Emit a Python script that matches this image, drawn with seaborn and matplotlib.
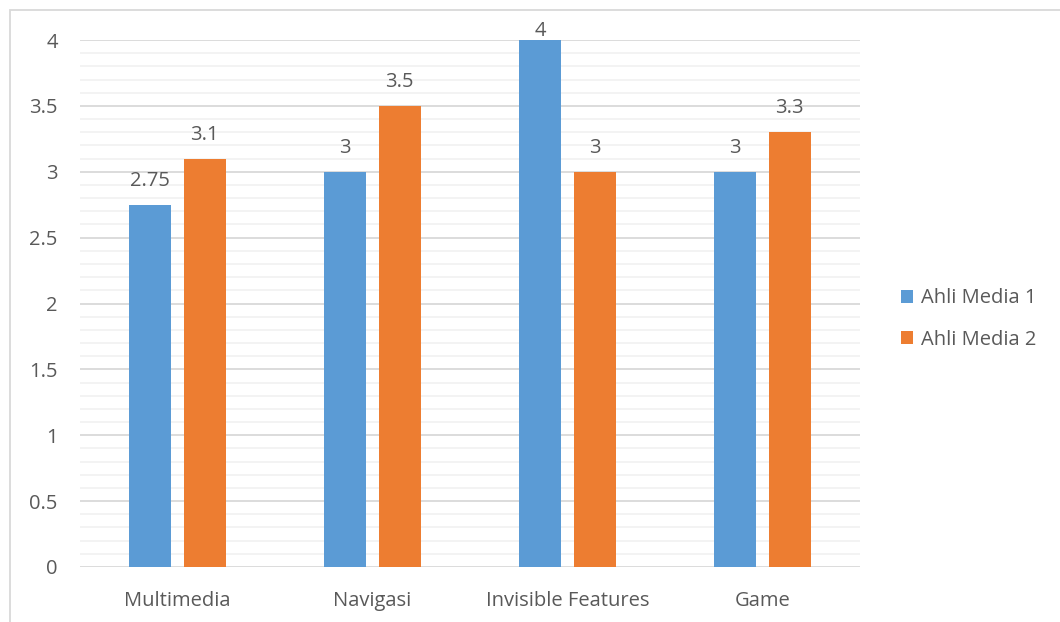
import pandas as pd
import matplotlib.pyplot as plt
import seaborn as sns
from matplotlib.patches import Rectangle
from matplotlib.ticker import MultipleLocator

sns.set_style("white")
plt.rcParams['font.family'] = ['Open Sans', 'DejaVu Sans']

# data
categories = ['Multimedia', 'Navigasi', 'Invisible Features', 'Game']
ahli_media_1 = [2.75, 3, 4, 3]
ahli_media_2 = [3.1, 3.5, 3, 3.3]
series_names = ['Ahli Media 1', 'Ahli Media 2']

df = pd.DataFrame({
    'kategori': categories * 2,
    'nilai': ahli_media_1 + ahli_media_2,
    'ahli': [series_names[0]] * 4 + [series_names[1]] * 4,
})

text_col = '#595959'
fs = 14.5
fig = plt.figure(figsize=(10.6, 6.22), dpi=100)
ax = fig.add_axes([80 / 1060, 55 / 622, 780 / 1060, 527 / 622])

sns.barplot(data=df, x='kategori', y='nilai', hue='ahli',
            palette=['#5B9BD5', '#ED7D31'], width=0.56, gap=0.22,
            saturation=1, linewidth=0, ax=ax, zorder=3)

ax.set_ylim(0, 4)
ax.set_xlim(-0.5, 3.5)
ax.yaxis.set_minor_locator(MultipleLocator(0.1))
ax.grid(which='major', axis='y', color='#D9D9D9', lw=1.3, zorder=0)
ax.grid(which='minor', axis='y', color='#F2F2F2', lw=1.3, zorder=0)
ax.set_yticks([0, 0.5, 1, 1.5, 2, 2.5, 3, 3.5, 4])
ax.set_yticklabels(['0', '0.5', '1', '1.5', '2', '2.5', '3', '3.5', '4'])
for s in ax.spines.values():
    s.set_visible(False)
ax.tick_params(axis='both', which='both', length=0, labelsize=fs, labelcolor=text_col)
ax.tick_params(axis='y', pad=16)
ax.tick_params(axis='x', pad=17)
ax.set_xlabel('')
ax.set_ylabel('')

# value labels
for cont in ax.containers:
    labels = ax.bar_label(cont, fmt='%g', padding=10, fontsize=fs, color=text_col)
    for t, bar in zip(labels, cont):
        t.set_clip_on(False)
        if bar.get_height() >= 4:
            t.xyann = (0, -1)

# legend
handles, lbls = ax.get_legend_handles_labels()
leg = fig.legend(handles, lbls, loc='center left', bbox_to_anchor=(883 / 1060, 1 - 319 / 622),
                 frameon=False, fontsize=fs, handlelength=0.6, handleheight=0.6,
                 handletextpad=0.4, labelspacing=1.05, labelcolor=text_col)
ax.get_legend().remove()

# outer chart border
fig.patches.append(Rectangle((10 / 1060, -0.1), 1.2, 1 - 10 / 622 + 0.1,
                             transform=fig.transFigure, fill=False,
                             edgecolor='#D9D9D9', lw=1.3))

fig.savefig('out.png', dpi=100)
